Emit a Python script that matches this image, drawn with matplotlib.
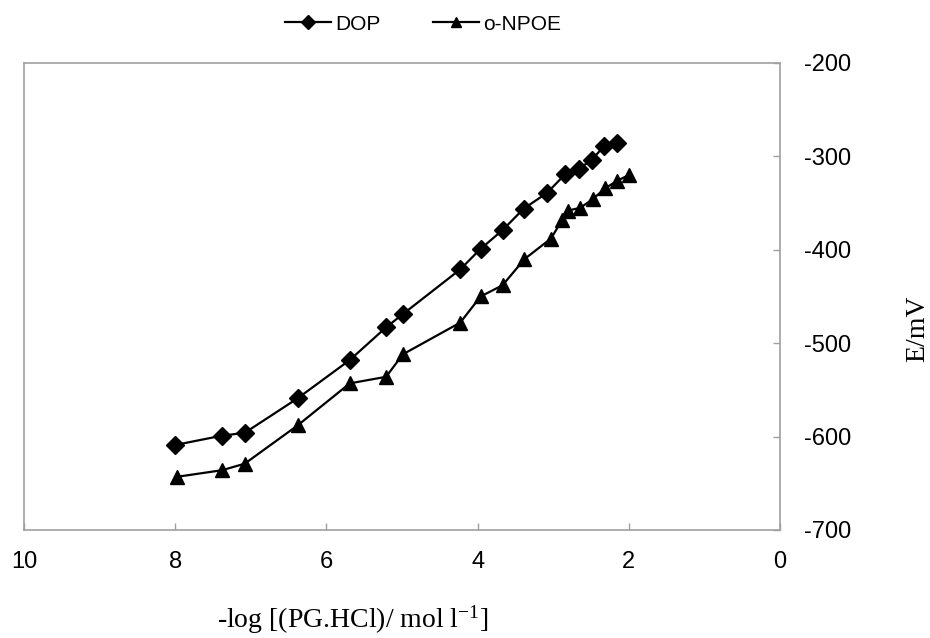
import matplotlib
matplotlib.use('Agg')
import matplotlib.pyplot as plt

# -log concentration vs potential, two plasticizers
dop_x = [8.0, 7.38, 7.08, 6.38, 5.69, 5.21, 4.99, 4.23, 3.96, 3.67, 3.39, 3.08, 2.84, 2.66, 2.49, 2.33, 2.15]
dop_y = [-609, -599, -596, -559, -518, -483, -469, -421, -399, -379, -356, -339, -319, -313, -304, -289, -286]

npoe_x = [7.97, 7.38, 7.08, 6.38, 5.69, 5.21, 4.99, 4.23, 3.96, 3.67, 3.38, 3.03, 2.88, 2.80, 2.64, 2.48, 2.31, 2.15, 2.00]
npoe_y = [-643, -636, -629, -588, -543, -536, -512, -478, -450, -438, -410, -388, -368, -358, -355, -346, -334, -326, -320]

x_ticks = [10, 8, 6, 4, 2, 0]
y_ticks = [-200, -300, -400, -500, -600, -700]

plt.rcParams['axes.unicode_minus'] = False
plt.rcParams['font.family'] = ['Liberation Sans', 'DejaVu Sans']
plt.rcParams['mathtext.fontset'] = 'custom'
plt.rcParams['mathtext.rm'] = 'Liberation Serif'
plt.rcParams['mathtext.default'] = 'rm'

fig = plt.figure(figsize=(9.3, 6.38), dpi=100)
ax = fig.add_axes([0.0258, 0.1693, 0.8129, 0.732])

ax.plot(dop_x, dop_y, color='black', lw=1.6, marker='D', ms=9, label='DOP')
ax.plot(npoe_x, npoe_y, color='black', lw=1.6, marker='^', ms=9.5, label='o-NPOE')

ax.set_xlim(10, 0)
ax.set_ylim(-700, -200)
ax.set_xticks(x_ticks)
ax.set_yticks(y_ticks)
ax.yaxis.tick_right()
ax.tick_params(axis='both', direction='in', length=5, width=1, color='#a0a0a0',
               labelsize=17, labelcolor='black')
ax.tick_params(axis='x', pad=15)
ax.tick_params(axis='y', pad=17)
for s in ax.spines.values():
    s.set_color('#a0a0a0')
    s.set_linewidth(1.2)

ax.set_xlabel('-log [(PG.HCl)/ mol l$^{-1}$]', family='Liberation Serif', fontsize=20)
ax.xaxis.set_label_coords(0.434, -0.158)
ax.yaxis.set_label_position('right')
ax.set_ylabel('E/mV', family='Liberation Serif', fontsize=20, rotation=90)
ax.yaxis.set_label_coords(1.166, 0.43)

fig.legend(loc='center', bbox_to_anchor=(0.455, 0.962), ncol=2, frameon=False,
           prop={'family': ['Liberation Sans Narrow', 'Liberation Sans'], 'size': 15},
           markerscale=0.75, handlelength=2.2, handletextpad=0.2, columnspacing=2.5)

fig.savefig('out.png', dpi=100)
